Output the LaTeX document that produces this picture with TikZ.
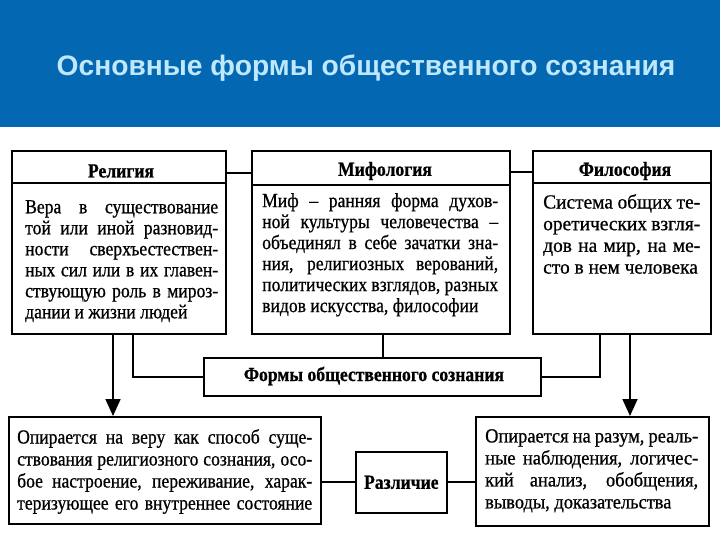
\documentclass[tikz,border=0pt]{standalone}
\usepackage{fontspec}
\setmainfont{Liberation Serif}[FakeStretch=0.88, FakeBold=0.7]
\newfontfamily\fsA{Liberation Serif}[FakeStretch=0.97, FakeBold=0.7]
\newfontfamily\fsB{Liberation Serif}[FakeStretch=0.92, FakeBold=0.7]
\newfontfamily\titlefont{Liberation Sans}
\usetikzlibrary{arrows.meta}
\definecolor{band}{RGB}{3,104,177}
\definecolor{titlec}{RGB}{192,232,252}
\newcommand\bw{100pt}
\newcommand\jl[1]{\makebox[\bw][s]{#1}\\}
\newcommand\lastl[1]{\makebox[\bw][l]{#1}}
\begin{document}
\begin{tikzpicture}[x=1pt,y=-1pt,
  box/.style={draw, line width=1.7pt, inner sep=0, anchor=north west},
  ln/.style={line width=1.8pt},
  arr/.style={line width=1.8pt, -{Triangle[length=17pt,width=15pt]}},
  body/.style={inner sep=0, anchor=north west, align=left, font=\fontsize{20}{21}\selectfont},
  hd/.style={inner sep=0, font=\bfseries\fontsize{20}{21}\selectfont}]
\useasboundingbox (0,0) rectangle (720,540);
\fill[white] (0,0) rectangle (720,540);
\fill[band] (0,0) rectangle (720,127);
\node[inner sep=0, text=titlec, font=\titlefont\bfseries\fontsize{28.2}{33}\selectfont] (title) at (366,68) {Основные формы общественного сознания};

% boxes
\node[box, minimum width=214pt, minimum height=183pt] (rel) at (11,150) {};
\node[box, minimum width=258pt, minimum height=183pt] (myth) at (251,150) {};
\node[box, minimum width=178pt, minimum height=183pt] (phil) at (532,150) {};
\node[box, minimum width=337pt, minimum height=38pt] (forms) at (203,357) {};
\node[box, minimum width=312pt, minimum height=107pt] (lbox) at (8,416) {};
\node[box, minimum width=91pt, minimum height=61pt] (diff) at (355,451) {};
\node[box, minimum width=233pt, minimum height=109pt] (rbox) at (475,416) {};

% header dividers
\draw[line width=1.5pt] (rel.west |- 0,183) -- (rel.east |- 0,183);
\draw[line width=1.5pt] (myth.west |- 0,185) -- (myth.east |- 0,185);
\draw[line width=1.5pt] (phil.west |- 0,183) -- (phil.east |- 0,183);

% headers
\node[hd] (relhd) at (121,171) {Религия};
\node[hd] (mythhd) at (385,171) {Мифология};
\node[hd] (philhd) at (625,171) {Философия};
\node[hd] (formshd) at (374,376) {Формы общественного сознания};
\node[hd] (diffhd) at (diff.center) {Различие};

% body texts
\gdef\bw{193pt}
\node[body] (reltx) at (25,200) {%
\jl{Вера в существование}
\jl{той или иной разновид-}
\jl{ности сверхъестествен-}
\jl{ных сил или в их главен-}
\jl{ствующую роль в мироз-}
\lastl{дании и жизни людей}};
\gdef\bw{236pt}
\node[body] (mythtx) at (262,193) {%
\jl{Миф – ранняя форма духов-}
\jl{ной культуры человечества –}
\jl{объединял в себе зачатки зна-}
\jl{ния, религиозных верований,}
\jl{политических взглядов, разных}
\lastl{видов искусства, философии}};
\gdef\bw{157pt}
\node[body, font=\fsA\fontsize{20}{21.7}\selectfont] (philtx) at (543,194) {%
\jl{Система общих те-}
\jl{оретических взгля-}
\jl{дов на мир, на ме-}
\lastl{сто в нем человека}};
\gdef\bw{295pt}
\node[body, font=\fontsize{20}{22}\selectfont] (ltx) at (17,429) {%
\jl{Опирается на веру как способ суще-}
\jl{ствования религиозного сознания, осо-}
\jl{бое настроение, переживание, харак-}
\makebox[\bw][s]{теризующее его внутреннее состояние}};
\gdef\bw{213pt}
\node[body, font=\fsB\fontsize{20}{22}\selectfont] (rtx) at (485,429) {%
\jl{Опирается на разум, реаль-}
\jl{ные наблюдения, логичес-}
\jl{кий анализ, обобщения,}
\lastl{выводы, доказательства}};

% connectors
\draw[ln] (rel.east |- 0,173) -- (myth.west |- 0,173);
\draw[ln] (myth.east |- 0,172) -- (phil.west |- 0,172);
\draw[ln] (rel.south -| 133,0) |- (forms.west);
\draw[ln] (myth.south -| 383,0) -- (forms.north -| 383,0);
\draw[ln] (phil.south -| 600,0) |- (forms.east);
\draw[arr] (rel.south -| 113,0) -- (lbox.north -| 113,0);
\draw[arr] (phil.south -| 630,0) -- (rbox.north -| 630,0);
\draw[ln] (lbox.east |- diff.west) -- (diff.west);
\draw[ln] (diff.east |- 0,482) -- (rbox.west |- 0,482);
\end{tikzpicture}
\end{document}
